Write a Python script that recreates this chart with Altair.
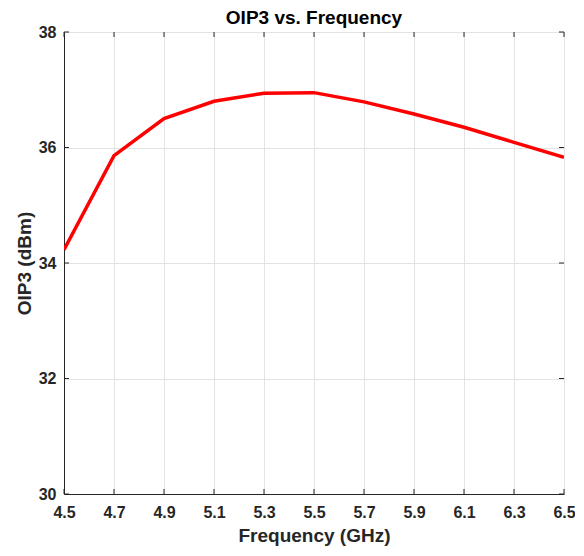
import altair as alt
import pandas as pd

freq = [4.5, 4.7, 4.9, 5.1, 5.3, 5.5, 5.7, 5.9, 6.1, 6.3, 6.5]
oip3 = [34.23, 35.86, 36.50, 36.80, 36.94, 36.95, 36.79, 36.58, 36.35, 36.09, 35.83]
x_ticks = [4.5, 4.7, 4.9, 5.1, 5.3, 5.5, 5.7, 5.9, 6.1, 6.3, 6.5]
y_ticks = [30, 32, 34, 36, 38]

df = pd.DataFrame({"f": freq, "o": oip3})
dfx = pd.DataFrame({"t": x_ticks})
dfy = pd.DataFrame({"t": y_ticks})

FONT = "Liberation Sans"
xs = alt.Scale(domain=[4.5, 6.5], nice=False, zero=False)
ys = alt.Scale(domain=[30, 38], nice=False, zero=False)

line = alt.Chart(df).mark_line(color="#ff0000", strokeWidth=3.5, clip=True).encode(
    x=alt.X("f:Q", scale=xs,
            axis=alt.Axis(values=x_ticks, format=".1f", title="Frequency (GHz)",
                          grid=True, gridColor="#e3e3e3", ticks=False,
                          labelPadding=10, titlePadding=6,
                          labelFont=FONT, labelFontSize=16, labelFontWeight="bold", labelColor="#262626",
                          titleFont=FONT, titleFontSize=19, titleFontWeight="bold", titleColor="#262626",
                          domainColor="#262626", labelFlush=False)),
    y=alt.Y("o:Q", scale=ys,
            axis=alt.Axis(values=y_ticks, format="d", title="OIP3 (dBm)",
                          grid=True, gridColor="#e3e3e3", ticks=False,
                          labelPadding=8, titlePadding=4,
                          labelFont=FONT, labelFontSize=16, labelFontWeight="bold", labelColor="#262626",
                          titleFont=FONT, titleFontSize=19, titleFontWeight="bold", titleColor="#262626",
                          domainColor="#262626", labelFlush=False)),
)

tick_col = "#262626"
xt_bot = alt.Chart(dfx).mark_rule(color=tick_col, strokeWidth=1).encode(
    x=alt.X("t:Q", scale=xs), y=alt.value(462), y2=alt.value(457))
xt_top = alt.Chart(dfx).mark_rule(color=tick_col, strokeWidth=1).encode(
    x=alt.X("t:Q", scale=xs), y=alt.value(0), y2=alt.value(5))
yt_l = alt.Chart(dfy).mark_rule(color=tick_col, strokeWidth=1).encode(
    y=alt.Y("t:Q", scale=ys), x=alt.value(0), x2=alt.value(5))
yt_r = alt.Chart(dfy).mark_rule(color=tick_col, strokeWidth=1).encode(
    y=alt.Y("t:Q", scale=ys), x=alt.value(500), x2=alt.value(495))

chart = alt.layer(line, xt_bot, xt_top, yt_l, yt_r).properties(
    width=500, height=462,
    title=alt.TitleParams("OIP3 vs. Frequency", font=FONT, fontSize=19, fontWeight="bold",
                          color="#000000", offset=-4, anchor="middle"),
    autosize=alt.AutoSizeParams(type="none"),
    padding={"left": 56, "top": 24, "right": 11, "bottom": 54},
).configure_view(stroke="#262626", strokeWidth=1).configure(background="white")

chart.save("out.html", embed_options={"renderer": "svg", "actions": False})
